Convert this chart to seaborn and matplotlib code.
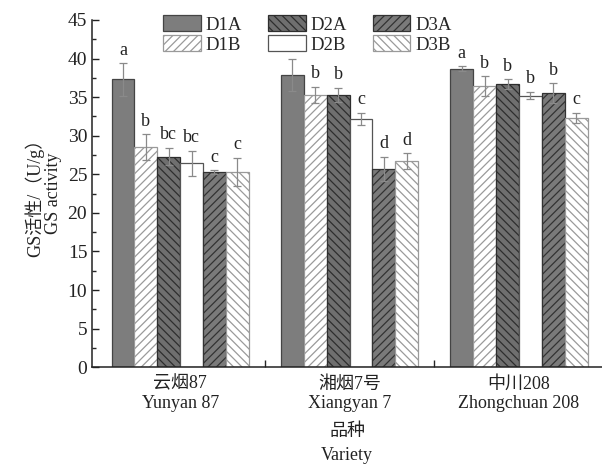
import matplotlib
matplotlib.use("Agg")
import matplotlib.pyplot as plt
import seaborn as sns
import pandas as pd
import numpy as np
from matplotlib.ticker import MultipleLocator, FixedLocator

varieties = ["云烟87\nYunyan 87", "湘烟7号\nXiangyan 7", "中川208\nZhongchuan 208"]
treatments = ["D1A", "D1B", "D2A", "D2B", "D3A", "D3B"]
yunyan = [37.3, 28.5, 27.3, 26.4, 25.3, 25.3]
xiangyan = [37.9, 35.3, 35.3, 32.2, 25.7, 26.7]
zhongchuan = [38.7, 36.4, 36.7, 35.2, 35.5, 32.3]
err_yunyan = [2.1, 1.7, 1.1, 1.6, 0.2, 1.8]
err_xiangyan = [2.1, 1.0, 0.9, 0.8, 1.6, 1.0]
err_zhongchuan = [0.3, 1.3, 0.6, 0.5, 1.3, 0.7]
let_yunyan = ["a", "b", "bc", "bc", "c", "c"]
let_xiangyan = ["a", "b", "b", "c", "d", "d"]
let_zhongchuan = ["a", "b", "b", "b", "b", "c"]

vals = [yunyan, xiangyan, zhongchuan]
errs = [err_yunyan, err_xiangyan, err_zhongchuan]
lets = [let_yunyan, let_xiangyan, let_zhongchuan]

rows = []
for vi, v in enumerate(varieties):
    for ti, t in enumerate(treatments):
        rows.append({"variety": v, "treatment": t, "value": vals[vi][ti],
                     "err": errs[vi][ti], "letter": lets[vi][ti]})
df = pd.DataFrame(rows)

sns.set_theme(style="ticks")
plt.rcParams["font.family"] = ["Liberation Serif", "Noto Sans CJK SC"]
plt.rcParams["hatch.linewidth"] = 0.9

fig = plt.figure(figsize=(6.02, 4.75), dpi=100)
ax = fig.add_axes([0.153, 0.227, 0.847, 0.731])

styles = {
    "D1A": dict(fc="#7d7d7d", ec="#444444", hatch=""),
    "D1B": dict(fc="white", ec="#9a9a9a", hatch="////"),
    "D2A": dict(fc="#6f6f6f", ec="#2e2e2e", hatch="\\\\\\\\"),
    "D2B": dict(fc="white", ec="#555555", hatch=""),
    "D3A": dict(fc="#7a7a7a", ec="#333333", hatch="////"),
    "D3B": dict(fc="white", ec="#9a9a9a", hatch="\\\\\\\\"),
}

sns.barplot(data=df, x="variety", y="value", hue="treatment", order=varieties,
            hue_order=treatments, errorbar=None, width=0.81, gap=0, ax=ax,
            palette=["#7d7d7d"] * 6, legend=True)

for t, cont in zip(treatments, ax.containers):
    st = styles[t]
    for bar in cont:
        bar.set_facecolor(st["fc"])
        bar.set_edgecolor(st["ec"])
        bar.set_hatch(st["hatch"])
        bar.set_linewidth(0.9)

for t, cont in zip(treatments, ax.containers):
    for vi, bar in enumerate(cont):
        xc = bar.get_x() + bar.get_width() / 2
        h = bar.get_height()
        e = errs[vi][treatments.index(t)]
        ax.errorbar(xc, h, yerr=e, fmt="none", ecolor="#8a8a8a", elinewidth=0.9,
                    capsize=3, capthick=0.9, zorder=5)
        ax.text(xc, h + e + 0.6, lets[vi][treatments.index(t)], ha="center",
                va="bottom", fontsize=13, color="#222222")

ax.set_ylim(0, 45)
ax.set_xlim(-0.52, 2.49)
ax.yaxis.set_major_locator(MultipleLocator(5))
ax.yaxis.set_minor_locator(MultipleLocator(2.5))
ax.xaxis.set_minor_locator(FixedLocator([0.5, 1.5]))
ax.tick_params(axis="y", which="major", direction="in", length=5, width=1,
               labelsize=14, colors="#222222")
ax.tick_params(axis="y", which="minor", direction="in", length=3, width=1)
ax.tick_params(axis="x", which="major", length=0, labelsize=13, pad=6,
               colors="#222222")
ax.tick_params(axis="x", which="minor", direction="in", length=5, width=1)
for s in ["top", "right"]:
    ax.spines[s].set_visible(False)
for s in ["left", "bottom"]:
    ax.spines[s].set_linewidth(1.1)
    ax.spines[s].set_color("#222222")

ax.set_xlabel("品种\nVariety", fontsize=13, color="#222222", labelpad=8,
              linespacing=1.5)
ax.set_ylabel("GS活性/（U/g）\nGS activity", fontsize=13, color="#222222",
              labelpad=4, linespacing=1.1)

handles, labels = ax.get_legend_handles_labels()
for hnd, t in zip(handles, labels):
    st = styles[t]
    hnd.set_facecolor(st["fc"])
    hnd.set_edgecolor(st["ec"])
    hnd.set_hatch(st["hatch"])
    hnd.set_linewidth(0.9)
ax.legend(handles, labels, ncol=3, loc="upper left", bbox_to_anchor=(0.125, 1.035),
          frameon=False, fontsize=13.5, handlelength=2.0, handleheight=0.9,
          columnspacing=1.4, handletextpad=0.25, labelspacing=0.1,
          borderaxespad=0)

fig.savefig("out.png", dpi=100)
